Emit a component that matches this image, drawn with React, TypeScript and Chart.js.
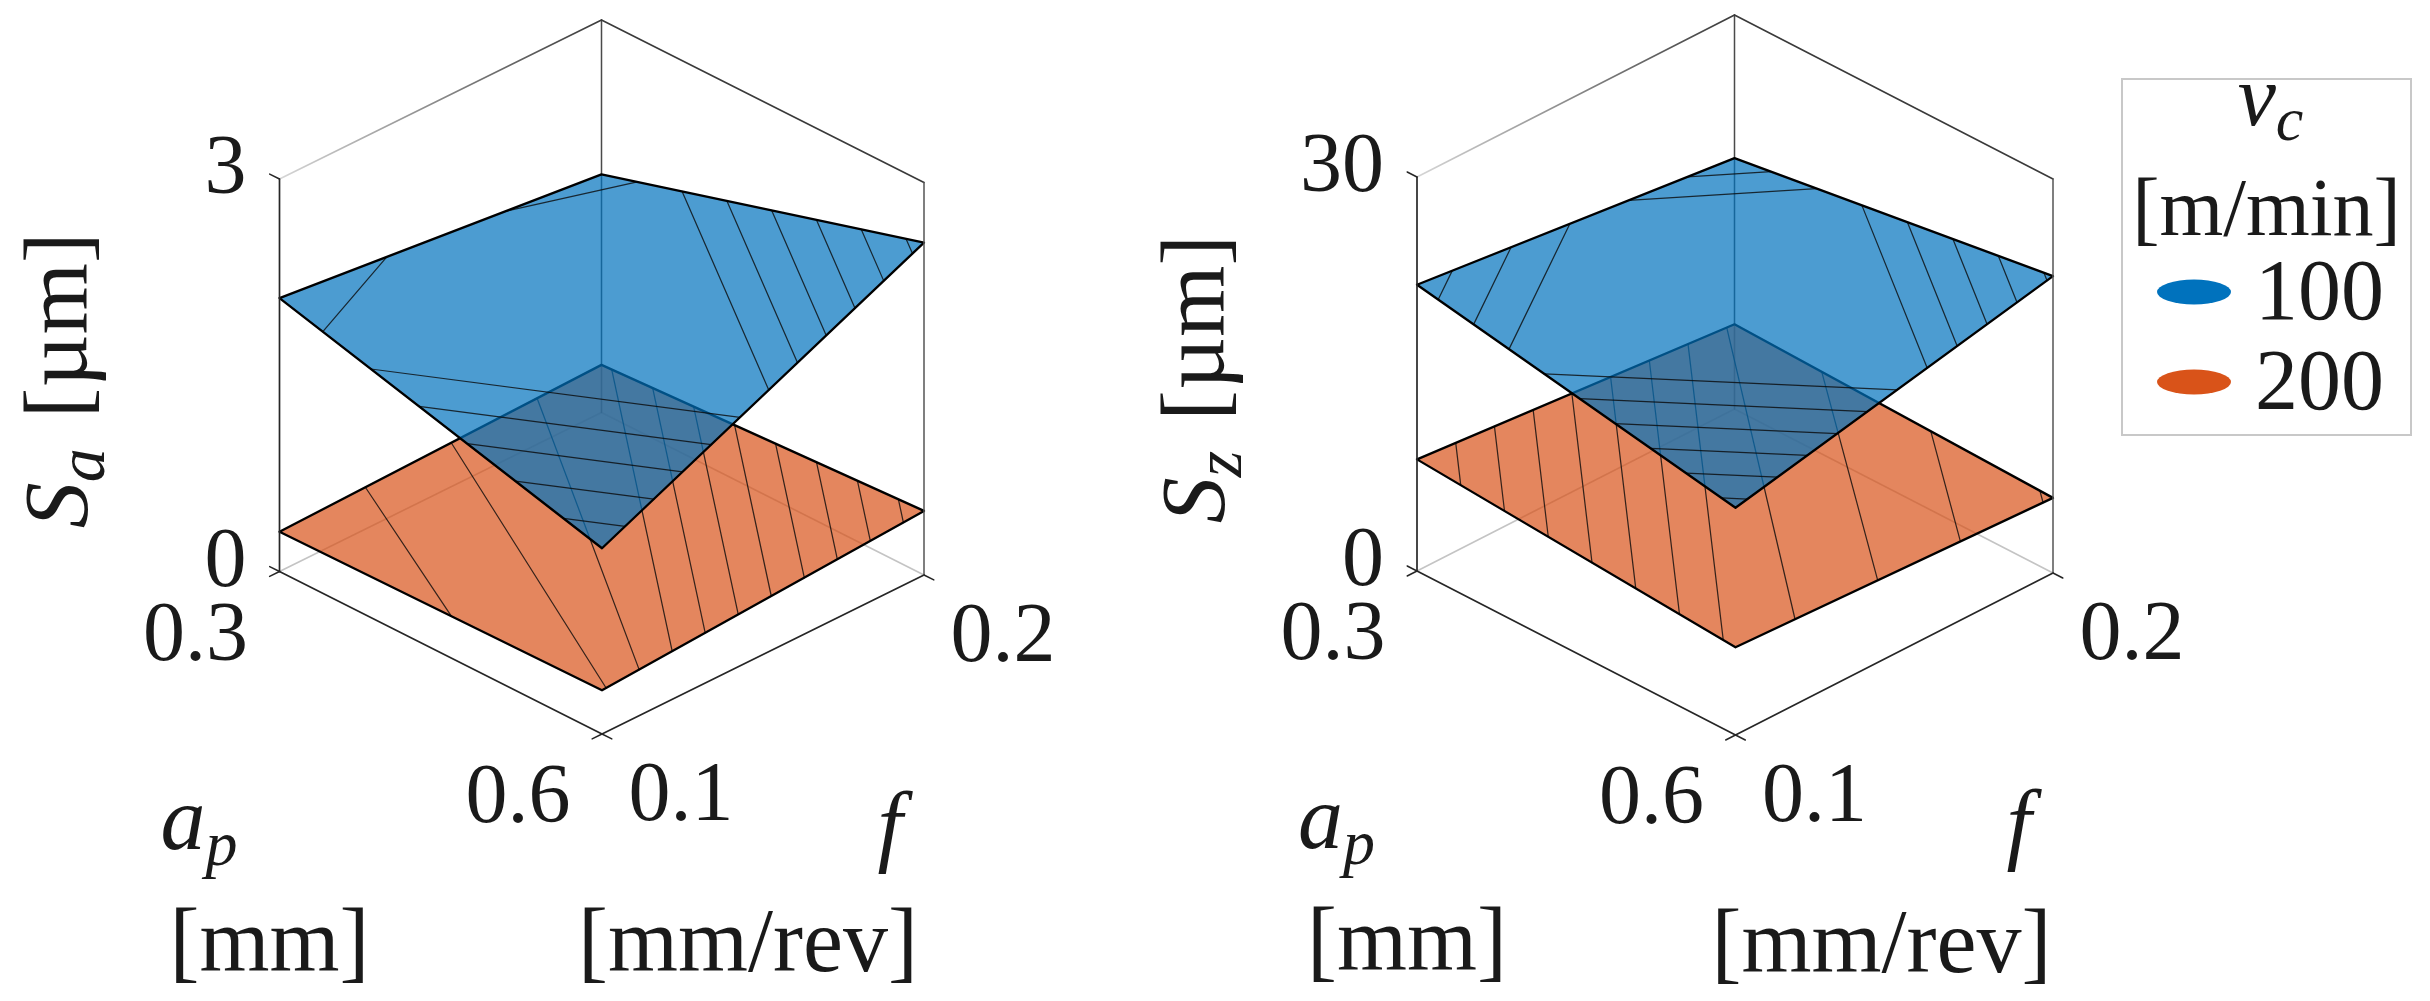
import React, { useEffect, useRef } from "react";
import { Chart, registerables } from "chart.js";

Chart.register(...registerables);

// ---------------- data ----------------
const apLevels = [0.3, 0.6]; // a_p [mm]
const fLevels = [0.1, 0.2]; // f [mm/rev]
const vcLevels = [100, 200]; // v_c [m/min]
const vcColors = ["#0072BD", "#D95319"];

// surface corner values: rows = a_p (0.3, 0.6), cols = f (0.1, 0.2)
const sa100 = [
  [2.09, 1.82],
  [1.42, 2.54],
];
const sa200 = [
  [0.304, 0.364],
  [0.334, 0.49],
];
const sz100 = [
  [21.8, 19.1],
  [17.3, 22.6],
];
const sz200 = [
  [8.5, 6.45],
  [6.68, 5.72],
];

// iso-line spacing per surface
const saContourSteps = [0.1, 0.016];
const szContourSteps = [0.5, 0.25];

const saTicks = [0, 3];
const szTicks = [0, 30];
const saTickLabels = ["0", "3"];
const szTickLabels = ["0", "30"];
const apTickLabels = ["0.3", "0.6"];
const fTickLabels = ["0.1", "0.2"];

// ---------------- layout ----------------
const W = 2430;
const H = 1001;
const FONT = '"Liberation Serif", "Times New Roman", serif';
const TEXT = "#1a1a1a";

type Vec = [number, number];
interface Panel {
  origin: Vec;
  uVec: Vec;
  vVec: Vec;
  zPix: number;
  ticks: number[];
  tickLabels: string[];
  surfaces: number[][][];
  steps: number[];
  sub: string;
}

const panels: Panel[] = [
  {
    origin: [279.5, 571.5],
    uVec: [322.5, 162.5],
    vVec: [322, -159],
    zPix: 392.5,
    ticks: saTicks,
    tickLabels: saTickLabels,
    surfaces: [sa100, sa200],
    steps: saContourSteps,
    sub: "a",
  },
  {
    origin: [1417, 571],
    uVec: [318.5, 164],
    vVec: [317.5, -162],
    zPix: 394,
    ticks: szTicks,
    tickLabels: szTickLabels,
    surfaces: [sz100, sz200],
    steps: szContourSteps,
    sub: "z",
  },
];

const uOf = (ap: number) => (ap - apLevels[0]) / (apLevels[1] - apLevels[0]);
const vOf = (f: number) => (f - fLevels[0]) / (fLevels[1] - fLevels[0]);

function proj(p: Panel, u: number, v: number, z: number) {
  const zMax = p.ticks[p.ticks.length - 1];
  return {
    x: p.origin[0] + u * p.uVec[0] + v * p.vVec[0],
    y: p.origin[1] + u * p.uVec[1] + v * p.vVec[1] - (z / zMax) * p.zPix,
  };
}

function bil(c: number[][], u: number, v: number) {
  return (
    c[0][0] * (1 - u) * (1 - v) +
    c[0][1] * (1 - u) * v +
    c[1][0] * u * (1 - v) +
    c[1][1] * u * v
  );
}

function levelsFor(c: number[][], step: number) {
  const vs = c.flat();
  const lo = Math.min(...vs);
  const hi = Math.max(...vs);
  const out: number[] = [];
  for (let k = Math.ceil(lo / step - 1e-9); k * step <= hi + 1e-9; k++) {
    const h = k * step;
    if (h - lo > 1e-6 && hi - h > 1e-6) out.push(h);
  }
  return out;
}

// level-set branches of the surface (marching squares, chained)
function contourLines(c: number[][], level: number, N: number): [number, number][][] {
  const vals: number[][] = [];
  for (let i = 0; i <= N; i++) {
    const row: number[] = [];
    for (let j = 0; j <= N; j++) row.push(bil(c, i / N, j / N) - level);
    vals.push(row);
  }
  const pts = new Map<string, [number, number]>();
  const adj = new Map<string, string[]>();
  const ep = (key: string, i1: number, j1: number, i2: number, j2: number) => {
    if (!pts.has(key)) {
      const a = vals[i1][j1];
      const b = vals[i2][j2];
      const t = a / (a - b);
      pts.set(key, [(i1 + (i2 - i1) * t) / N, (j1 + (j2 - j1) * t) / N]);
    }
    return key;
  };
  const link = (a: string, b: string) => {
    if (!adj.has(a)) adj.set(a, []);
    if (!adj.has(b)) adj.set(b, []);
    adj.get(a)!.push(b);
    adj.get(b)!.push(a);
  };
  for (let i = 0; i < N; i++) {
    for (let j = 0; j < N; j++) {
      const s0 = vals[i][j] > 0;
      const s1 = vals[i + 1][j] > 0;
      const s2 = vals[i + 1][j + 1] > 0;
      const s3 = vals[i][j + 1] > 0;
      const e: (string | null)[] = [
        s0 !== s1 ? ep(`h${i}_${j}`, i, j, i + 1, j) : null,
        s1 !== s2 ? ep(`v${i + 1}_${j}`, i + 1, j, i + 1, j + 1) : null,
        s3 !== s2 ? ep(`h${i}_${j + 1}`, i, j + 1, i + 1, j + 1) : null,
        s0 !== s3 ? ep(`v${i}_${j}`, i, j, i, j + 1) : null,
      ];
      const list = e.filter((x) => x !== null) as string[];
      if (list.length === 2) link(list[0], list[1]);
      else if (list.length === 4) {
        const center =
          (vals[i][j] + vals[i + 1][j] + vals[i + 1][j + 1] + vals[i][j + 1]) / 4 > 0;
        if (center === s0) {
          link(e[0]!, e[1]!);
          link(e[2]!, e[3]!);
        } else {
          link(e[0]!, e[3]!);
          link(e[1]!, e[2]!);
        }
      }
    }
  }
  const visited = new Set<string>();
  const lines: [number, number][][] = [];
  const walk = (start: string) => {
    const line: [number, number][] = [];
    let prev: string | null = null;
    let cur: string | undefined = start;
    while (cur !== undefined && !visited.has(cur)) {
      visited.add(cur);
      line.push(pts.get(cur)!);
      const nb: string[] = (adj.get(cur) || []).filter((n) => n !== prev && !visited.has(n));
      prev = cur;
      cur = nb[0];
    }
    return line;
  };
  for (const [k, nb] of adj) if (nb.length === 1 && !visited.has(k)) lines.push(walk(k));
  for (const k of adj.keys()) if (!visited.has(k)) lines.push(walk(k));
  return lines;
}

function hexA(hex: string, a: number) {
  const n = parseInt(hex.slice(1), 16);
  return `rgba(${(n >> 16) & 255},${(n >> 8) & 255},${n & 255},${a})`;
}

type Pt = { x: number; y: number };
const GAP: Pt = { x: NaN, y: NaN };

function lineDs(data: Pt[], color: any, width: number, extra: any = {}) {
  return {
    data,
    showLine: true,
    pointRadius: 0,
    pointHoverRadius: 0,
    borderColor: color,
    borderWidth: width,
    backgroundColor: "rgba(0,0,0,0)",
    fill: false,
    tension: 0,
    borderCapStyle: "round",
    borderJoinStyle: "round",
    spanGaps: false,
    clip: false,
    ...extra,
  };
}

function buildDatasets() {
  const layers: any[] = [];
  panels.forEach((p) => {
    const zTop = p.ticks[p.ticks.length - 1];
    const L0 = proj(p, 0, 0, 0);
    const F0 = proj(p, 1, 0, 0);
    const R0 = proj(p, 1, 1, 0);
    const B0 = proj(p, 0, 1, 0);
    const Lt = proj(p, 0, 0, zTop);
    const Rt = proj(p, 1, 1, zTop);
    const Bt = proj(p, 0, 1, zTop);

    // back box lines
    layers.push(lineDs([L0, B0, R0], "#c4c4c4", 1.6));
    layers.push(lineDs([B0, Bt], "#4a4a4a", 1.5));
    layers.push(lineDs([Bt, Rt], "#3a3a3a", 1.6));
    layers.push(
      lineDs(
        [Lt, Bt],
        (ctx: any) => {
          const ch = ctx.chart;
          const xs = ch.scales && ch.scales.x;
          const ys = ch.scales && ch.scales.y;
          if (!xs || !ys) return "#8a8a8a";
          const x1 = xs.getPixelForValue(Lt.x);
          const y1 = ys.getPixelForValue(Lt.y);
          const x2 = xs.getPixelForValue(Bt.x);
          const y2 = ys.getPixelForValue(Bt.y);
          if (![x1, y1, x2, y2].every((v) => Number.isFinite(v))) return "#8a8a8a";
          const g = ch.ctx.createLinearGradient(x1, y1, x2, y2);
          g.addColorStop(0, "#d6d6d6");
          g.addColorStop(1, "#3a3a3a");
          return g;
        },
        1.6
      )
    );

    // surfaces, lowest first
    const order = p.surfaces
      .map((c, i) => ({ c, i, m: c.flat().reduce((a, b) => a + b, 0) }))
      .sort((a, b) => a.m - b.m);
    order.forEach(({ c, i }) => {
      const corners: [number, number][] = [
        [0, 0],
        [1, 0],
        [1, 1],
        [0, 1],
      ];
      const poly = corners.map(([ai, fi]) =>
        proj(p, uOf(apLevels[ai]), vOf(fLevels[fi]), c[ai][fi])
      );
      poly.push(poly[0]);
      layers.push(
        lineDs(poly, "rgba(0,0,0,0)", 0, {
          fill: "shape",
          backgroundColor: hexA(vcColors[i], 0.7),
        })
      );
      // iso-height mesh lines: straight chords between the edge crossings of each level branch
      const cdata: Pt[] = [];
      levelsFor(c, p.steps[i]).forEach((h) => {
        contourLines(c, h, 80).forEach((ln) => {
          if (ln.length < 2) return;
          const a = ln[0];
          const b = ln[ln.length - 1];
          cdata.push(proj(p, a[0], a[1], h), proj(p, b[0], b[1], h), GAP);
        });
      });
      layers.push(lineDs(cdata, "rgba(10,10,10,0.8)", 1.25));
      layers.push(lineDs(poly, "#000000", 2.3));
    });

    // front box lines, axes, ticks
    layers.push(lineDs([L0, F0, R0], "#262626", 1.7));
    layers.push(lineDs([L0, Lt], "#262626", 1.7));
    layers.push(lineDs([R0, Rt], "#555555", 1.5));
    const tl = 11;
    const un = Math.hypot(p.uVec[0], p.uVec[1]);
    const vn = Math.hypot(p.vVec[0], p.vVec[1]);
    const tickData: Pt[] = [];
    p.ticks.forEach((t) => {
      const a = proj(p, 0, 0, t);
      tickData.push(a, { x: a.x - (p.uVec[0] / un) * tl, y: a.y - (p.uVec[1] / un) * tl }, GAP);
    });
    apLevels.forEach((ap) => {
      const a = proj(p, uOf(ap), 0, 0);
      tickData.push(a, { x: a.x - (p.vVec[0] / vn) * tl, y: a.y - (p.vVec[1] / vn) * tl }, GAP);
    });
    fLevels.forEach((f) => {
      const a = proj(p, 1, vOf(f), 0);
      tickData.push(a, { x: a.x + (p.uVec[0] / un) * tl, y: a.y + (p.uVec[1] / un) * tl }, GAP);
    });
    layers.push(lineDs(tickData, "#262626", 1.5));
  });
  // Chart.js paints the first dataset on top: reverse painter order
  return layers.reverse();
}

type Part = { t: string; it?: boolean; size: number; dy?: number; gap?: number };

function fontOf(p: Part) {
  return `${p.it ? "italic " : ""}${p.size}px ${FONT}`;
}

function drawRich(ctx: CanvasRenderingContext2D, parts: Part[], x: number, y: number, align: "left" | "center" | "right") {
  let w = 0;
  parts.forEach((p) => {
    ctx.font = fontOf(p);
    w += ctx.measureText(p.t).width + (p.gap || 0);
  });
  let cx = align === "left" ? x : align === "center" ? x - w / 2 : x - w;
  ctx.textAlign = "left";
  ctx.textBaseline = "alphabetic";
  parts.forEach((p) => {
    ctx.font = fontOf(p);
    ctx.fillText(p.t, cx, y + (p.dy || 0));
    cx += ctx.measureText(p.t).width + (p.gap || 0);
  });
}

const textPlugin = {
  id: "labels3d",
  afterDraw(chart: any) {
    const ctx: CanvasRenderingContext2D = chart.ctx;
    const X = (v: number) => chart.scales.x.getPixelForValue(v);
    const Y = (v: number) => chart.scales.y.getPixelForValue(v);
    ctx.save();
    ctx.fillStyle = TEXT;
    const TICK = 84;
    const LAB = 90;
    panels.forEach((p) => {
      const L0 = proj(p, 0, 0, 0);
      const F0 = proj(p, 1, 0, 0);
      const R0 = proj(p, 1, 1, 0);
      const zTop = p.ticks[p.ticks.length - 1];
      p.ticks.forEach((t, k) => {
        const a = proj(p, 0, 0, t);
        drawRich(ctx, [{ t: p.tickLabels[k], size: TICK }], X(a.x - 33), Y(a.y + 14), "right");
      });
      apLevels.forEach((ap, k) => {
        const a = proj(p, uOf(ap), 0, 0);
        drawRich(ctx, [{ t: apTickLabels[k], size: TICK }], X(a.x - 84), Y(a.y + 88), "center");
      });
      fLevels.forEach((f, k) => {
        const a = proj(p, 1, vOf(f), 0);
        drawRich(ctx, [{ t: fTickLabels[k], size: TICK }], X(a.x + 79), Y(a.y + 86), "center");
      });
      drawRich(
        ctx,
        [
          { t: "a", it: true, size: LAB },
          { t: "p", it: true, size: 64, dy: 16 },
        ],
        X(L0.x - 119),
        Y(L0.y + 277),
        "left"
      );
      drawRich(ctx, [{ t: "[mm]", size: LAB }], X(L0.x - 10), Y(L0.y + 399), "center");
      drawRich(ctx, [{ t: "f", it: true, size: LAB }], X(R0.x - 34), Y(R0.y + 280), "center");
      drawRich(ctx, [{ t: "[mm/rev]", size: LAB }], X(F0.x + 146), Y(F0.y + 237), "center");
      const top = proj(p, 0, 0, zTop);
      ctx.save();
      ctx.translate(X(L0.x - 193), Y((L0.y + top.y) / 2 + 5));
      ctx.rotate(-Math.PI / 2);
      drawRich(
        ctx,
        [
          { t: "S", it: true, size: 92 },
          { t: p.sub, it: true, size: 68, dy: 17, gap: 30 },
          { t: "[\u00B5m]", size: 92 },
        ],
        0,
        0,
        "center"
      );
      ctx.restore();
    });

    // legend
    const bx = 2122, by = 79, bw = 289, bh = 356;
    ctx.fillStyle = "#ffffff";
    ctx.fillRect(X(bx), Y(by), bw, bh);
    ctx.strokeStyle = "#c8c8c8";
    ctx.lineWidth = 2;
    ctx.strokeRect(X(bx), Y(by), bw, bh);
    ctx.fillStyle = TEXT;
    const cxL = bx + bw / 2;
    drawRich(
      ctx,
      [
        { t: "v", it: true, size: 86 },
        { t: "c", it: true, size: 62, dy: 15 },
      ],
      X(cxL + 4),
      Y(125),
      "center"
    );
    drawRich(ctx, [{ t: "[m/min]", size: 82 }], X(cxL), Y(235), "center");
    vcLevels.forEach((vc, k) => {
      const yc = 292 + k * 90;
      ctx.fillStyle = vcColors[k];
      ctx.beginPath();
      ctx.ellipse(X(2194), Y(yc), 37, 12.5, 0, 0, Math.PI * 2);
      ctx.fill();
      ctx.fillStyle = TEXT;
      drawRich(ctx, [{ t: String(vc), size: 86 }], X(2255), Y(yc + 27), "left");
    });
    ctx.restore();
  },
};

export default function App() {
  const ref = useRef<HTMLCanvasElement | null>(null);
  useEffect(() => {
    document.body.style.margin = "0";
    const canvas = ref.current;
    if (!canvas) return;
    const chart = new Chart(canvas, {
      type: "scatter",
      data: { datasets: buildDatasets() as any },
      options: {
        animation: false,
        responsive: false,
        maintainAspectRatio: false,
        events: [],
        layout: { padding: 0 },
        scales: {
          x: { type: "linear", min: 0, max: W, display: false },
          y: { type: "linear", min: 0, max: H, reverse: true, display: false },
        },
        plugins: {
          legend: { display: false },
          tooltip: { enabled: false },
          title: { display: false },
        },
      } as any,
      plugins: [textPlugin as any],
    });
    return () => chart.destroy();
  }, []);
  return (
    <div style={{ position: "absolute", left: 0, top: 0, width: W, height: H, background: "#ffffff" }}>
      <canvas ref={ref} width={W} height={H} style={{ width: W, height: H, display: "block" }} />
    </div>
  );
}
